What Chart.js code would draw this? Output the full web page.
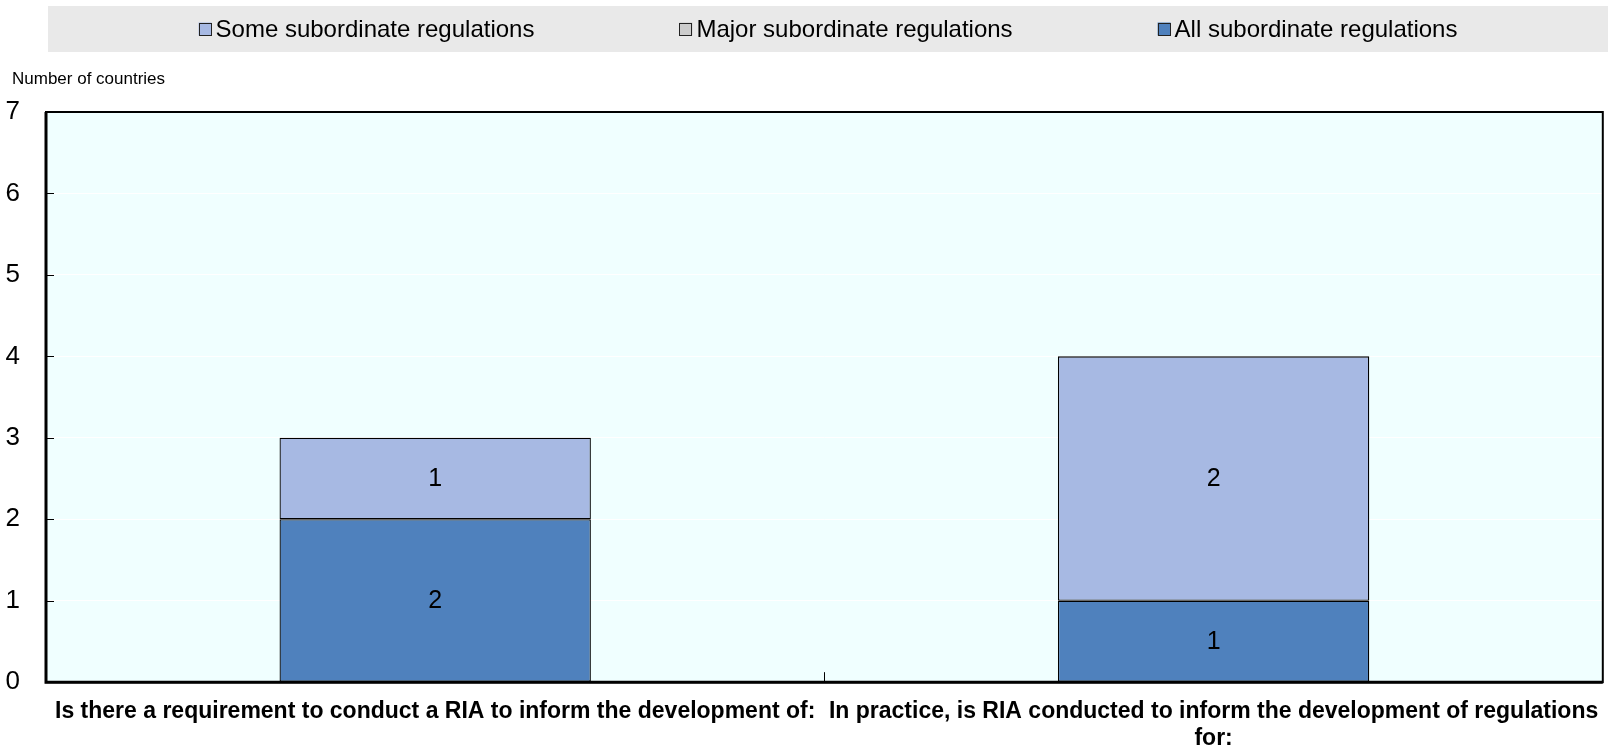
<!DOCTYPE html>
<html>
<head>
<meta charset="utf-8">
<script src="https://cdn.jsdelivr.net/npm/chart.js@4"></script>
<style>
  html, body { margin: 0; padding: 0; background: #fff; }
  #wrap { width: 1616px; height: 753px; }
</style>
</head>
<body>
<div id="wrap"><canvas id="chartscreen" width="1616" height="753"></canvas></div>
<script>
// categories (x labels, split in lines like the original)
const categories = [
    ["Is there a requirement to conduct a RIA to inform the development of:"],
    ["In practice, is RIA conducted to inform the development of regulations", "for:"]
];

// segment heights
const allRegs = [2, 1];
const majorRegs = [0, 0];
const someRegs = [1, 3];

// numbers printed inside the segments (the original prints 2 on a segment that is 3 high)
const allPrinted = [2, 1];
const majorPrinted = [0, 0];
const somePrinted = [1, 2];

const yTicks = [0, 1, 2, 3, 4, 5, 6, 7];
const yTitle = 'Number of countries';

const FONT = "'Liberation Sans', Arial, sans-serif";

// gray legend band, legend items, axis caption and plot background
const backgrounds = {
    id: 'backgrounds',
    beforeDraw(chart) {
        const ctx = chart.ctx;
        const area = chart.chartArea;
        ctx.save();

        // legend band
        const bandL = area.left + 2, bandR = chart.width - 8;
        const bandT = 6, bandB = 52;
        ctx.fillStyle = '#e9e9e9';
        ctx.fillRect(bandL, bandT, bandR - bandL, bandB - bandT);

        // legend items, in reverse dataset order (same as the original)
        ctx.font = '24px ' + FONT;
        ctx.textBaseline = 'middle';
        ctx.textAlign = 'left';
        const box = 13, gapText = 4, gapItem = 145;
        const items = chart.data.datasets.slice().reverse();
        const widths = items.map(ds => box + gapText + ctx.measureText(ds.label).width);
        const total = widths.reduce((a, b) => a + b, 0) + gapItem * (items.length - 1);
        let cx = (bandL + bandR) / 2 - total / 2;
        const cy = (bandT + bandB) / 2;
        items.forEach((ds, i) => {
            ctx.fillStyle = ds.backgroundColor;
            ctx.fillRect(cx, cy - box / 2, box, box);
            ctx.strokeStyle = '#222';
            ctx.lineWidth = 1;
            ctx.strokeRect(Math.round(cx) + 0.5, Math.round(cy - box / 2) + 0.5, box - 1, box - 1);
            ctx.fillStyle = '#000';
            ctx.fillText(ds.label, cx + box + gapText, cy + 1);
            cx += widths[i] + gapItem;
        });

        // axis caption
        ctx.font = '17px ' + FONT;
        ctx.fillText(yTitle, 12, 79);

        // plot background
        ctx.fillStyle = '#f0ffff';
        ctx.fillRect(area.left, area.top, area.right - area.left, area.bottom - area.top);
        ctx.restore();
    }
};

// frame, inner ticks and the value labels inside the bars
const frameAndLabels = {
    id: 'frameAndLabels',
    afterDatasetsDraw(chart) {
        const ctx = chart.ctx;
        const area = chart.chartArea;
        const y = chart.scales.y;
        const x = chart.scales.x;
        ctx.save();

        // values inside the bars
        ctx.fillStyle = '#000';
        ctx.font = '25px ' + FONT;
        ctx.textAlign = 'center';
        ctx.textBaseline = 'middle';
        chart.data.datasets.forEach((ds, i) => {
            const meta = chart.getDatasetMeta(i);
            meta.data.forEach((bar, j) => {
                const v = ds.printed[j];
                if (v > 0) {
                    ctx.fillText(String(v), bar.x, (bar.y + bar.base) / 2 + 1);
                }
            });
        });

        // short ticks on the inside of the y axis
        ctx.strokeStyle = '#000';
        ctx.lineWidth = 1;
        y.ticks.forEach(t => {
            const py = Math.round(y.getPixelForValue(t.value)) + 0.5;
            ctx.beginPath();
            ctx.moveTo(area.left, py);
            ctx.lineTo(area.left + 8, py);
            ctx.stroke();
        });

        // tick between the two categories
        for (let k = 1; k < categories.length; k++) {
            const px = Math.round((x.getPixelForValue(k - 1) + x.getPixelForValue(k)) / 2) + 0.5;
            ctx.beginPath();
            ctx.moveTo(px, area.bottom);
            ctx.lineTo(px, area.bottom - 10);
            ctx.stroke();
        }

        // frame
        ctx.lineWidth = 2;
        ctx.strokeRect(area.left, area.top, area.right - area.left, area.bottom - area.top);
        ctx.lineWidth = 3;
        ctx.beginPath();
        ctx.moveTo(area.left, area.top);
        ctx.lineTo(area.left, area.bottom);
        ctx.lineTo(area.right, area.bottom);
        ctx.stroke();
        ctx.restore();
    }
};

const chart_canvas = document.getElementById('chartscreen');

new Chart(chart_canvas, {
    type: 'bar',
    data: {
        labels: categories,
        datasets: [
            {
                label: 'All subordinate regulations',
                data: allRegs,
                printed: allPrinted,
                backgroundColor: '#4f81bd',
                borderColor: '#000',
                borderWidth: 1.3,
                borderSkipped: false
            },
            {
                label: 'Major subordinate regulations',
                data: majorRegs,
                printed: majorPrinted,
                backgroundColor: '#cccccc',
                borderColor: '#000',
                borderWidth: 1.3,
                borderSkipped: false
            },
            {
                label: 'Some subordinate regulations',
                data: someRegs,
                printed: somePrinted,
                backgroundColor: '#a7b9e3',
                borderColor: '#000',
                borderWidth: 1.3,
                borderSkipped: false
            }
        ]
    },
    options: {
        responsive: false,
        animation: false,
        devicePixelRatio: 1,
        barPercentage: 0.4,
        categoryPercentage: 1,
        layout: {
            padding: { left: 0, right: 7, top: 112, bottom: -15 }
        },
        plugins: {
            legend: { display: false },
            title: { display: false },
            tooltip: { enabled: false }
        },
        scales: {
            x: {
                stacked: true,
                grid: { display: false, drawTicks: false },
                border: { display: false },
                ticks: {
                    color: '#000',
                    maxRotation: 0,
                    minRotation: 0,
                    autoSkip: false,
                    padding: 16,
                    font: { family: FONT, size: 23, weight: 'bold', lineHeight: 1.17 }
                }
            },
            y: {
                stacked: true,
                min: 0,
                max: 7,
                afterFit(scale) { scale.width = 46; },
                afterBuildTicks(scale) {
                    scale.ticks = yTicks.map(v => ({ value: v }));
                },
                grid: { color: '#ffffff', lineWidth: 1, drawTicks: false },
                border: { display: false },
                ticks: {
                    color: '#000',
                    padding: 26,
                    font: { family: FONT, size: 26 }
                }
            }
        }
    },
    plugins: [backgrounds, frameAndLabels]
});
</script>
</body>
</html>
